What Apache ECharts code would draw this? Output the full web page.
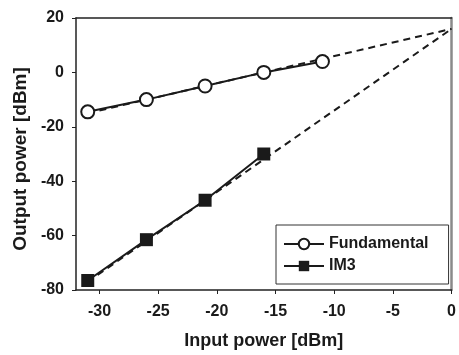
<!DOCTYPE html>
<html>
<head>
<meta charset="utf-8">
<script src="https://cdn.jsdelivr.net/npm/echarts@6/dist/echarts.min.js"></script>
<style>
  html, body { margin: 0; padding: 0; background: #fff; }
  #chart { width: 459px; height: 355px; }
</style>
</head>
<body>
<div id="chart"></div>
<script>
// measured points
var inputPower = [-31, -26, -21, -16, -11];
var fundamental = [-14.5, -10, -5, 0, 4];
var im3Input = [-31, -26, -21, -16];
var im3 = [-76.5, -61.5, -47, -30];
// dashed extrapolation (slope 1 and slope 3, meeting near 0 dBm)
var fitInput = [-31, 0];
var fundFit = [-15, 16];
var im3Fit = [-77, 16];
var xTicks = [-30, -25, -20, -15, -10, -5, 0];

function pairs(xs, ys) {
    return xs.map(function (x, i) { return [x, ys[i]]; });
}

var dom = document.getElementById('chart');
var myChart = echarts.init(dom, null, { renderer: 'canvas' });

var font = 'Liberation Sans, Arial, sans-serif';
var ink = '#1a1a1a';

var option = {
    animation: false,
    textStyle: { fontFamily: font },
    grid: { left: 76, right: 6, top: 18, bottom: 63 },
    legend: {
        data: ['Fundamental', 'IM3'],
        orient: 'vertical',
        left: 276,
        top: 225,
        itemWidth: 40,
        itemHeight: 13,
        itemGap: 6,
        padding: [11, 20, 10, 7],
        borderColor: '#333',
        borderWidth: 1,
        textStyle: { fontFamily: font, fontWeight: 'bold', fontSize: 16, color: ink }
    },
    xAxis: [{
        type: 'value',
        min: -32,
        max: 0,
        name: 'Input power [dBm]',
        nameLocation: 'middle',
        nameGap: 42,
        nameTextStyle: { fontFamily: font, fontWeight: 'bold', fontSize: 18, color: ink },
        splitLine: { show: false },
        axisLine: { onZero: false, lineStyle: { color: '#222', width: 1.5 } },
        axisTick: { customValues: xTicks, length: 4, lineStyle: { color: '#222' } },
        axisLabel: {
            customValues: xTicks, margin: 14,
            fontFamily: font, fontWeight: 'bold', fontSize: 16, color: ink
        }
    }, {
        type: 'value',
        position: 'top',
        min: -32,
        max: 0,
        axisLine: { show: true, onZero: false, lineStyle: { color: '#222', width: 1.5 } },
        axisTick: { show: false },
        axisLabel: { show: false },
        splitLine: { show: false }
    }],
    yAxis: [{
        type: 'value',
        min: -80,
        max: 20,
        interval: 20,
        name: 'Output power [dBm]',
        nameLocation: 'middle',
        nameGap: 46,
        nameTextStyle: {
            fontFamily: font, fontWeight: 'bold', fontSize: 19, color: ink,
            padding: [0, 10, 0, 0]
        },
        splitLine: { show: false },
        axisLine: { show: true, onZero: false, lineStyle: { color: '#222', width: 1.5 } },
        axisTick: { show: true, length: 4, lineStyle: { color: '#222' } },
        axisLabel: { margin: 12, fontFamily: font, fontWeight: 'bold', fontSize: 16, color: ink }
    }, {
        type: 'value',
        position: 'right',
        min: -80,
        max: 20,
        axisLine: { show: true, onZero: false, lineStyle: { color: '#8a8a8a', width: 2.5 } },
        axisTick: { show: false },
        axisLabel: { show: false },
        splitLine: { show: false }
    }],
    series: [
        {
            name: 'Fundamental fit',
            type: 'line',
            data: pairs(fitInput, fundFit),
            symbol: 'none',
            lineStyle: { color: ink, width: 2, type: [7, 5] },
            z: 1
        },
        {
            name: 'IM3 fit',
            type: 'line',
            data: pairs(fitInput, im3Fit),
            symbol: 'none',
            lineStyle: { color: ink, width: 2, type: [7, 5] },
            z: 1
        },
        {
            name: 'Fundamental',
            type: 'line',
            data: pairs(inputPower, fundamental),
            symbol: 'circle',
            symbolSize: 13,
            itemStyle: { color: '#fff', borderColor: ink, borderWidth: 2 },
            lineStyle: { color: ink, width: 2 },
            z: 3
        },
        {
            name: 'IM3',
            type: 'line',
            data: pairs(im3Input, im3),
            symbol: 'rect',
            symbolSize: 13,
            itemStyle: { color: ink, borderColor: ink, borderWidth: 0 },
            lineStyle: { color: ink, width: 2 },
            z: 3
        }
    ]
};

if (option && typeof option === 'object') {
    myChart.setOption(option);
}

window.addEventListener('resize', myChart.resize);
</script>
</body>
</html>
